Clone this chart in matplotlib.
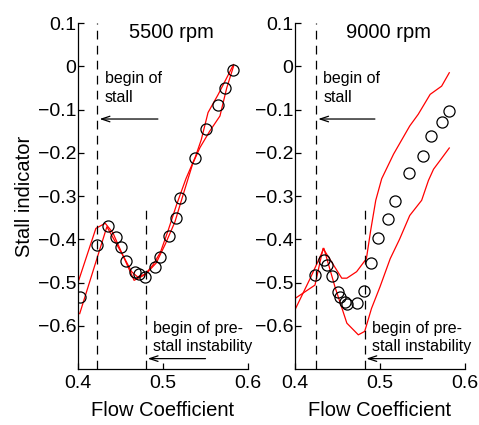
import numpy as np
import matplotlib.pyplot as plt

plt.rcParams['font.family'] = ['Liberation Sans', 'DejaVu Sans']

# 5500 rpm: medidas (circulos) y bandas rojas
x5500 = [0.402, 0.422, 0.435, 0.445, 0.451, 0.457, 0.467, 0.472, 0.479, 0.491,
         0.497, 0.507, 0.515, 0.520, 0.538, 0.551, 0.565, 0.573, 0.582]
y5500 = [-0.534, -0.414, -0.370, -0.395, -0.418, -0.450, -0.475, -0.480, -0.487, -0.464,
         -0.440, -0.392, -0.350, -0.304, -0.212, -0.144, -0.090, -0.051, -0.009]
up5500_x = [0.400, 0.421, 0.432, 0.441, 0.450, 0.458, 0.466, 0.478, 0.488, 0.497,
            0.506, 0.516, 0.527, 0.538, 0.545, 0.553, 0.565, 0.583]
up5500_y = [-0.500, -0.375, -0.363, -0.385, -0.425, -0.460, -0.495, -0.483, -0.460, -0.430,
            -0.380, -0.320, -0.260, -0.210, -0.170, -0.107, -0.065, 0.004]
lo5500_x = [0.402, 0.434, 0.445, 0.455, 0.463, 0.470, 0.480, 0.492, 0.503, 0.514,
            0.524, 0.535, 0.5435, 0.555, 0.567, 0.575, 0.583]
lo5500_y = [-0.572, -0.371, -0.410, -0.445, -0.475, -0.487, -0.480, -0.455, -0.410, -0.360,
            -0.295, -0.225, -0.188, -0.150, -0.115, -0.050, 0.000]

# 9000 rpm
x9000 = [0.4235, 0.4345, 0.438, 0.443, 0.451, 0.453, 0.459, 0.4615, 0.473, 0.481,
         0.489, 0.498, 0.509, 0.518, 0.534, 0.550, 0.560, 0.5725, 0.5815]
y9000 = [-0.483, -0.447, -0.460, -0.485, -0.521, -0.533, -0.544, -0.549, -0.548, -0.520,
         -0.456, -0.396, -0.354, -0.312, -0.247, -0.207, -0.161, -0.130, -0.103]
up9000_x = [0.400, 0.4235, 0.433, 0.455, 0.461, 0.4725, 0.484, 0.489, 0.495, 0.502,
            0.516, 0.535, 0.545, 0.559, 0.5725, 0.5815]
up9000_y = [-0.537, -0.506, -0.421, -0.490, -0.490, -0.475, -0.445, -0.380, -0.310, -0.260,
            -0.203, -0.138, -0.111, -0.065, -0.046, -0.015]
lo9000_x = [0.400, 0.418, 0.434, 0.447, 0.461, 0.4745, 0.482, 0.490, 0.500, 0.512,
            0.523, 0.535, 0.549, 0.557, 0.563, 0.5706, 0.5815]
lo9000_y = [-0.563, -0.490, -0.421, -0.510, -0.594, -0.621, -0.613, -0.560, -0.510, -0.445,
            -0.400, -0.345, -0.310, -0.264, -0.238, -0.218, -0.189]

paneles = [
    ('5500 rpm', x5500, y5500, up5500_x, up5500_y, lo5500_x, lo5500_y, 0.4224, 0.480),
    ('9000 rpm', x9000, y9000, up9000_x, up9000_y, lo9000_x, lo9000_y, 0.4243, 0.482),
]

fig = plt.figure(figsize=(4.79, 4.25), dpi=100)
izq = [78 / 479, 295 / 479]

for i, (titulo, xs, ys, ux, uy, lx, ly, stall, pre) in enumerate(paneles):
    ax = fig.add_axes([izq[i], 56 / 425, 170 / 479, 346 / 425])
    ax.plot(ux, uy, color='red', lw=0.9)
    ax.plot(lx, ly, color='red', lw=0.9)
    ax.plot(xs, ys, 'o', mfc='none', mec='black', ms=8, mew=0.9)

    # lineas discontinuas
    ax.plot([stall, stall], [-0.7, 0.1], color='black', lw=0.9, dashes=(7, 5))
    ax.plot([pre, pre], [-0.7, -0.33], color='black', lw=0.9, dashes=(7, 5))

    # flechas
    ax.annotate('', xy=(stall + 0.003, -0.122), xytext=(0.494, -0.122),
                arrowprops=dict(arrowstyle='->,head_length=0.6,head_width=0.2',
                                color='black', lw=0.9, shrinkA=0, shrinkB=0))
    ax.annotate('', xy=(pre + 0.002, -0.676), xytext=(0.550, -0.676),
                arrowprops=dict(arrowstyle='->,head_length=0.6,head_width=0.2',
                                color='black', lw=0.9, shrinkA=0, shrinkB=0))

    ax.text(stall + 0.009, -0.012, 'begin of\nstall', fontsize=11.5,
            va='top', ha='left', linespacing=1.3)
    ax.text(pre + 0.0085, -0.588, 'begin of pre-\nstall instability', fontsize=11.5,
            va='top', ha='left', linespacing=1.3)
    ax.text(0.51, 0.077, titulo, fontsize=14.5, ha='center', va='center')

    ax.set_xlim(0.4, 0.6)
    ax.set_ylim(-0.7, 0.1)
    ax.set_xticks([0.4, 0.5, 0.6])
    ax.set_yticks([-0.6, -0.5, -0.4, -0.3, -0.2, -0.1, 0, 0.1])
    ax.set_yticklabels(['\u22120.6', '\u22120.5', '\u22120.4', '\u22120.3',
                        '\u22120.2', '\u22120.1', '0', '0.1'])
    ax.tick_params(direction='in', length=4, labelsize=14, width=0.9)
    ax.tick_params(axis='x', pad=4)
    ax.tick_params(axis='y', pad=1)
    ax.spines['top'].set_visible(False)
    ax.spines['right'].set_visible(False)
    ax.spines['left'].set_linewidth(0.9)
    ax.spines['bottom'].set_linewidth(0.9)
    ax.set_xlabel('Flow Coefficient', fontsize=14.5, labelpad=7)
    if i == 0:
        ax.set_ylabel('Stall indicator', fontsize=14.5, labelpad=3)

fig.savefig('out.png', dpi=100)
